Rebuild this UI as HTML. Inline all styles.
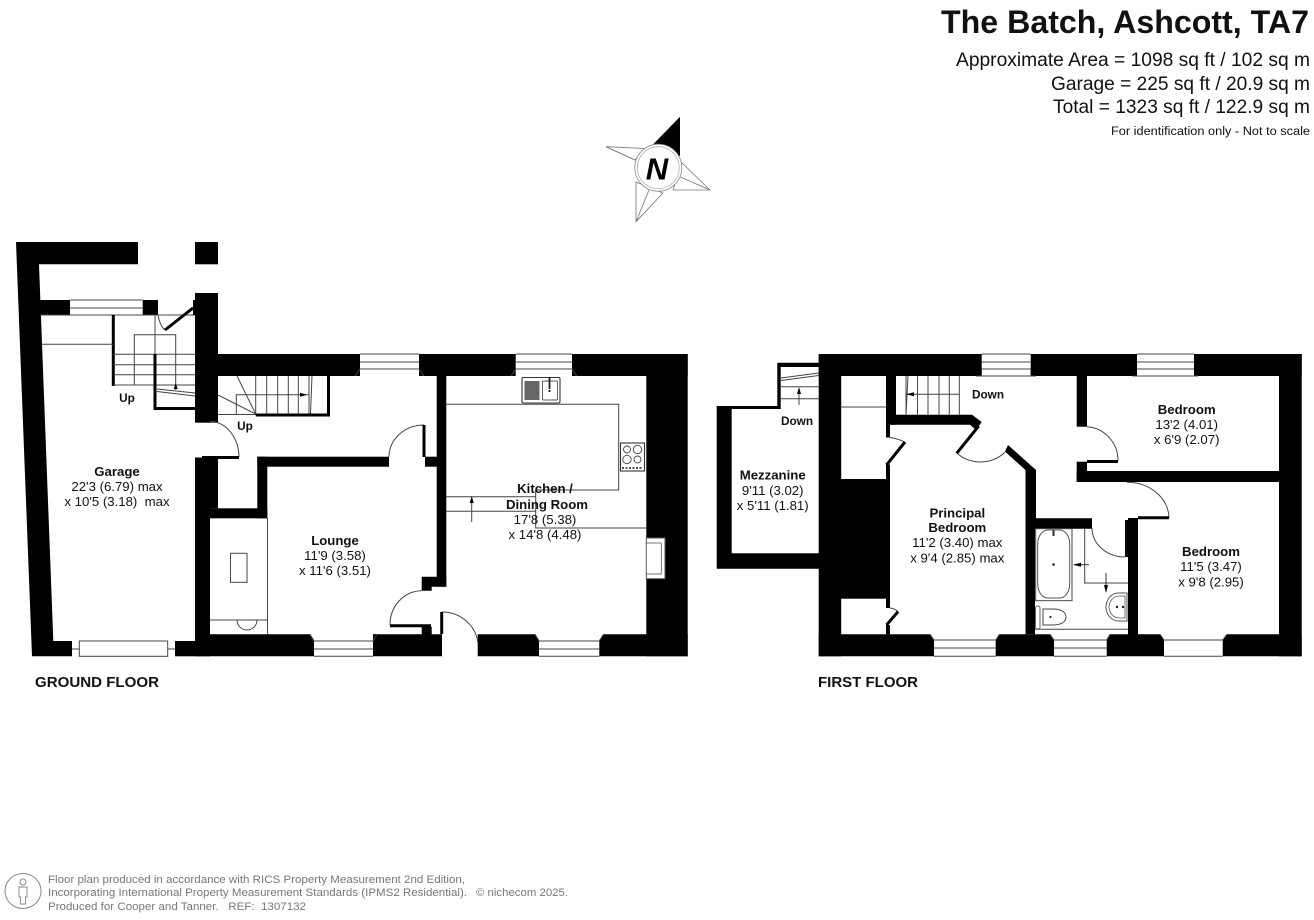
<!DOCTYPE html>
<html><head><meta charset="utf-8"><style>
html,body{margin:0;padding:0;background:#fff;width:1314px;height:920px;overflow:hidden}
svg{display:block}
text{font-family:"Liberation Sans",Arial,sans-serif;fill:#111}
.l text{font-size:13.2px;text-anchor:middle}
.l text.s{font-size:11.8px}
.b{font-weight:bold}
.t{fill:none;stroke:#444;stroke-width:1}
.k{fill:none;stroke:#000;stroke-width:3}
.w{fill:#000}
.g{fill:#fff;stroke:#555;stroke-width:1}
</style></head><body>
<svg width="1314" height="920" viewBox="0 0 1314 920" xmlns="http://www.w3.org/2000/svg">
<rect width="1314" height="920" fill="#fff"/>

<!-- Header -->
<text x="1309" y="33" text-anchor="end" font-size="32.500" font-weight="bold" textLength="368" lengthAdjust="spacingAndGlyphs">The Batch, Ashcott, TA7</text>
<text x="1310" y="66" text-anchor="end" font-size="19.5" textLength="354" lengthAdjust="spacingAndGlyphs">Approximate Area = 1098 sq ft / 102 sq m</text>
<text x="1310" y="90" text-anchor="end" font-size="19.5" textLength="259" lengthAdjust="spacingAndGlyphs">Garage = 225 sq ft / 20.9 sq m</text>
<text x="1310" y="113" text-anchor="end" font-size="19.5" textLength="257" lengthAdjust="spacingAndGlyphs">Total = 1323 sq ft / 122.9 sq m</text>
<text x="1310" y="135" text-anchor="end" font-size="12.4" textLength="199" lengthAdjust="spacingAndGlyphs">For identification only - Not to scale</text>

<!-- Compass -->
<g fill="#fff" stroke="#777" stroke-width="0.8">
<path d="M606 146.700L645 148.500 635 160Z"/>
<path d="M710 190L682 163 673 190Z"/>
<path d="M636 221.700L636 182 663 193Z"/>
<path d="M606 146.700L635 160M710 190L678 176M636 221.700L649 190"/>
</g>
<path d="M680 116.700L651.500 146 680 156Z" fill="#000"/>
<circle cx="658.300" cy="167.700" r="23.500" fill="#fff" stroke="#888" stroke-width="0.8"/>
<circle cx="658.300" cy="167.700" r="21" fill="none" stroke="#999" stroke-width="0.6"/>
<text x="657" y="179.500" text-anchor="middle" font-size="31" font-weight="bold" font-style="italic" style="fill:#000">N</text>

<!-- GROUND FLOOR walls -->
<g class="w">
<path d="M16 242H138V264.300H39L53.300 641H72V656.300H32Z"/>
<rect x="195" y="242" width="23" height="22.300"/>
<rect x="40" y="300" width="30" height="15"/>
<rect x="142.700" y="300" width="15.300" height="15"/>
<rect x="195" y="293" width="23" height="129.700"/>
<rect x="218" y="354" width="142" height="22"/>
<path d="M360 354V376H355Z"/>
<rect x="419" y="354" width="96.700" height="22"/>
<rect x="572" y="354" width="115.700" height="22"/>
<path d="M646.300 354H687.700V656.300H646.300Z"/>
<rect x="195" y="457.500" width="15" height="198.800"/>
<rect x="210" y="458" width="8" height="50.300"/>
<rect x="195" y="508.300" width="72.300" height="10"/>
<rect x="257.300" y="456.700" width="10" height="61.600"/>
<rect x="257.300" y="456.700" width="131.700" height="10"/>
<rect x="425" y="456.700" width="12" height="10"/>
<rect x="436.700" y="376" width="9.600" height="210.700"/>
<path d="M421.700 576.700H446.300V586.700H431.700V590.700H421.700Z"/>
<path d="M421.700 626.700H431.700V634.300H442V656.300H373V634.300H421.700Z"/>
<rect x="175" y="641" width="20" height="15.300"/>
<path d="M195 634.300H310L314 640V656.300H195Z"/>
<path d="M477.700 634.300H535L539 640V656.300H477.700Z"/>
<path d="M599.300 640L603.500 634.300H687.700V656.300H599.300Z"/>
<path d="M373 640L377 634.300H373Z"/>
</g>

<!-- Ground windows -->
<g class="t" stroke-width="1">
<path d="M70 300H142.700M70 308H142.700"/>
<path d="M40 315H195"/>
<path d="M360 354H419M360 362H419M360 369H419M355 376L360 369M424 376L419 369"/>
<path d="M515.700 354H572M515.700 362H572M515.700 369H572M511 376L515.700 369M576.700 376L572 369"/>
<path d="M314 641H373M314 649H373M314 656.300H373M310 634.300L314 641M377 634.300L373 641"/>
<path d="M539 641H599.300M539 649H599.300M539 656.300H599.300M535 634.300L539 641M603.500 634.300L599.300 641"/>
<path d="M72 649H79.300M167.700 649H175"/>
<rect x="79.300" y="641" width="88.400" height="15.300" fill="#fff"/>
</g>

<!-- Garage stairs -->
<path d="M113.300 315V386" class="k" stroke-width="2"/>
<g class="t">
<path d="M41 344.300H113"/>
<path d="M113 354.300H195M113 364.700H195M113 374.700H195M113 385H195"/>
<path d="M134.300 385V334.700H175.700V390"/>
<path d="M155 315V354"/>
<path d="M157 389L195 393M157 391.500L195 396"/>
<path d="M158 315Q160 326 165 330"/>
</g>
<path d="M155 354V408.500H195" class="k" stroke-width="2.500"/>
<path d="M165 330L193 308" class="k" stroke-width="2.200"/>
<path d="M193 300H195V315H193Z" fill="#000"/>
<path d="M175.700 383L173.700 389H177.700Z" fill="#000"/>

<!-- Hall stairs -->
<g class="t">
<path d="M255.700 376V414M266.700 376V414M277.700 376V414M288.300 376V414M298.300 376V414M309 376V414M312 376L310.500 414"/>
<path d="M237 376L255.700 414M218 395L255.700 414"/>
<path d="M236.300 414V394.700H309M218 414.500H256"/>
</g>
<path d="M255.700 415H328.500V376" class="k" stroke-width="2"/>
<path d="M307 394.700L300 392.700V396.700Z" fill="#000"/>
<path d="M210 421.500A29 36 0 0 1 239 457" class="t"/>
<path d="M202 457.500H239" class="k" stroke-width="1.700"/>

<!-- Lounge / understairs -->
<g class="t">
<path d="M267.500 518V634"/>
<path d="M210 620H267.500"/>
<path d="M237 620A10 10 0 0 0 257 620"/>
<rect x="230.500" y="553.300" width="16.500" height="29"/>
<path d="M389 456.700A35 32 0 0 1 424 425"/>
<path d="M390 625A32 34 0 0 1 421.700 590.700"/>
<path d="M442 612A36 34 0 0 1 477.700 642"/>
</g>
<path d="M424 425V457" class="k" stroke-width="1.700"/>
<path d="M390 625.800H431" class="k" stroke-width="1.700"/>
<path d="M441.700 612V634" class="k" stroke-width="1.700"/>

<!-- Kitchen -->
<g class="t">
<path d="M446 404.300H618.700V490H535.700V528H646"/>
<path d="M446 496.700H536M446 511.300H536"/>
<path d="M471.700 522V500"/>
</g>
<rect x="646.300" y="538" width="18.700" height="40.700" fill="#fff" stroke="#555"/>
<rect x="646.300" y="543" width="15" height="31" fill="#fff" stroke="#555" stroke-width=".8"/>
<path d="M471.700 496L469.700 503H473.700Z" fill="#000"/>
<!-- Sink -->
<rect x="522" y="377.500" width="38" height="25.500" rx="1.500" fill="#fff" stroke="#333" stroke-width="1.100"/>
<rect x="524.500" y="381" width="15" height="19" fill="#666"/>
<rect x="542.500" y="381" width="15" height="19" rx="1" fill="#fff" stroke="#555" stroke-width=".9"/>
<path d="M549.500 377V389" stroke="#222" stroke-width="1.800"/>
<rect x="548.500" y="390" width="2" height="2" fill="#222"/>
<!-- Hob -->
<rect x="620.500" y="443" width="24" height="28" fill="#fff" stroke="#333" stroke-width="1.100"/>
<g fill="none" stroke="#444" stroke-width=".9">
<circle cx="627" cy="449.500" r="3.500"/><circle cx="637.500" cy="449.500" r="4.200"/>
<circle cx="627" cy="459.500" r="4.200"/><circle cx="637.500" cy="459.500" r="3.500"/>
</g>
<path d="M622 468H643" stroke="#555" stroke-width="2" stroke-dasharray="2 1.500"/>

<!-- FIRST FLOOR walls -->
<g class="w">
<rect x="818.700" y="354" width="163" height="22"/>
<path d="M976 376L981.700 370V376Z"/>
<rect x="1030.700" y="354" width="106.300" height="22"/>
<path d="M1030.700 370L1035 376H1030.700Z"/>
<path d="M1137 370L1132.500 376H1137Z"/>
<rect x="1194" y="354" width="107.700" height="22"/>
<path d="M1194 370L1198 376H1194Z"/>
<rect x="1279" y="354" width="22.700" height="302.300"/>
<rect x="818.700" y="354" width="22.500" height="302.300"/>
<rect x="839" y="479" width="51" height="119.700"/>
<rect x="886" y="376" width="10" height="48.700"/>
<path d="M886 414.700H972L981.700 422 976 430 970 424.700H886Z"/>
<rect x="886" y="424" width="4" height="13.500"/>
<rect x="886" y="464.500" width="4" height="143.500"/>
<rect x="886" y="625" width="4" height="9.300"/>
<!-- mezzanine -->
<path d="M716.700 406H777.300V362.700H818.700V367H780.700V409H731.700V553.300H819V568.700H716.700Z"/>
<!-- bottom wall -->
<path d="M818.700 634.300H930L934 640V656.300H818.700Z"/>
<path d="M995.700 640L999.500 634.300H1050L1054 640V656.300H995.700Z"/>
<path d="M1106.700 640L1110 634.300H1160L1164 640V656.300H1106.700Z"/>
<path d="M1222.700 640L1227 634.300H1301.700V656.300H1222.700Z"/>
<!-- diagonal wall -->
<path d="M1008 445L1036 470V518.300H1092V528.700H1035V634.300H1025.500V470L1005 451.500Z"/>
<!-- bedroom dividers -->
<rect x="1076.700" y="376" width="10.300" height="50.700"/>
<rect x="1076.700" y="461.700" width="10.300" height="20.300"/>
<rect x="1076.700" y="471" width="202.800" height="11"/>
<rect x="1128" y="518" width="10" height="116.500"/>
<rect x="1125" y="520" width="3.200" height="37"/>
</g>

<!-- First windows -->
<g class="t">
<path d="M981.700 354H1030.700M981.700 362H1030.700M981.700 369H1030.700M976 376H1036"/>
<path d="M1137 354H1194M1137 362H1194M1137 369H1194M1132.500 376H1198"/>
<path d="M934 640H995.700M934 648H995.700M934 656.300H995.700M930 634.300L934 640M999.500 634.300L995.700 640"/>
<path d="M1054 640H1106.700M1054 648H1106.700M1054 656.300H1106.700M1050 634.300L1054 640M1110 634.300L1106.700 640"/>
<path d="M1164 640H1222.700M1164 656.300H1222.700M1160 634.300L1164 640M1227 634.300L1222.700 640"/>
</g>

<!-- First floor details -->
<g class="t">
<path d="M840.700 407H886"/>
<path d="M781 386.700H818.700M781 398.700H818.700M781 378L818.700 373M781 380.500L818.700 375.500"/>
<path d="M799 405V392"/>
<path d="M906 376V414.700M908 376L906 414.700M917.500 376V414.700M928 376V414.700M939 376V414.700M949.300 376V414.700M959.300 376V414.700"/>
<path d="M906 394.300H959.300"/>
<path d="M890 437.500Q898 438.500 905 442.300"/>
<path d="M890 608Q895 608.500 898 611.700"/>
<path d="M956.700 453A36 36 0 0 0 1005 452.300"/>
<path d="M1087 426.700A33 34 0 0 1 1118 461"/>
<path d="M1127 482.300A42 36 0 0 1 1169 518.300"/>
<path d="M1092 528A33 29 0 0 0 1125 557"/>
<path d="M1084.700 528.700V583H1128"/>
<path d="M1035 629.300H1128"/>
</g>
<path d="M799 387L797 394H801Z" fill="#000"/>
<path d="M906 394.300L914 392.300V396.300Z" fill="#000"/>
<path d="M905 442L886.500 465" class="k" stroke-width="2.200"/>
<path d="M898 611.700L886.500 625" class="k" stroke-width="2.200"/>
<path d="M978.700 426L956.700 453.300" class="k" stroke-width="2.400"/>
<path d="M1087 461.500H1118" class="k" stroke-width="1.700"/>
<path d="M1138 517.700H1169" class="k" stroke-width="1.700"/>

<!-- Bath -->
<rect x="1035.700" y="528.700" width="36.300" height="72" fill="#fff" stroke="#444"/>
<rect x="1037.700" y="530" width="32" height="68" rx="10" ry="14" fill="#fff" stroke="#555"/>
<path d="M1053.500 530V536" stroke="#333" stroke-width="2"/>
<circle cx="1053.500" cy="564.500" r="1.300" fill="#222"/>
<path d="M1089 564.700H1074" stroke="#333" stroke-width="1"/>
<path d="M1073 564.700L1081 562.700V566.700Z" fill="#000"/>
<path d="M1106 573V592" stroke="#333" stroke-width="1"/>
<path d="M1106 593L1104 585H1108Z" fill="#000"/>
<!-- Basin -->
<path d="M1127 593H1119C1110 593 1106 601 1106 607S1110 621 1119 621H1127Z" fill="#fff" stroke="#555"/>
<path d="M1125 596H1119C1113 596 1109 602 1109 607S1113 618 1119 618H1125Z" fill="none" stroke="#555" stroke-width=".8"/>
<circle cx="1117" cy="607" r="1.200" fill="#222"/><circle cx="1123" cy="607" r="1.200" fill="#222"/>
<!-- Toilet -->
<rect x="1035.500" y="606" width="4.500" height="23" rx="2" fill="#fff" stroke="#666"/>
<path d="M1043 609H1053C1061 609 1066 612 1066 617S1061 625 1053 625H1043Z" fill="#fff" stroke="#444"/>
<circle cx="1050.500" cy="617" r="1.100" fill="#222"/>

<!-- Labels -->
<g class="l">
<text x="117" y="476" class="b">Garage</text>
<text x="117" y="491">22'3 (6.79) max</text>
<text x="117" y="506">x 10'5 (3.18)&#160; max</text>
<text x="127" y="402" class="b s">Up</text>
<text x="245" y="430" class="b s">Up</text>
<text x="335" y="545" class="b">Lounge</text>
<text x="335" y="560">11'9 (3.58)</text>
<text x="335" y="575">x 11'6 (3.51)</text>
<text x="545" y="493" class="b">Kitchen /</text>
<text x="547" y="509" class="b">Dining Room</text>
<text x="545" y="524">17'8 (5.38)</text>
<text x="545" y="539">x 14'8 (4.48)</text>
<text x="797" y="425" class="b s">Down</text>
<text x="988" y="398.500" class="b s">Down</text>
<text x="772.700" y="479.300" class="b">Mezzanine</text>
<text x="772.700" y="495">9'11 (3.02)</text>
<text x="772.700" y="510">x 5'11 (1.81)</text>
<text x="957.300" y="517.500" class="b">Principal</text>
<text x="957.300" y="532" class="b">Bedroom</text>
<text x="957.300" y="547">11'2 (3.40) max</text>
<text x="957.300" y="562.500">x 9'4 (2.85) max</text>
<text x="1186.700" y="414" class="b">Bedroom</text>
<text x="1186.700" y="429">13'2 (4.01)</text>
<text x="1186.700" y="444">x 6'9 (2.07)</text>
<text x="1211" y="556" class="b">Bedroom</text>
<text x="1211" y="571">11'5 (3.47)</text>
<text x="1211" y="586.500">x 9'8 (2.95)</text>
</g>
<text x="35" y="687" font-size="14.300" font-weight="bold" textLength="124" lengthAdjust="spacingAndGlyphs">GROUND FLOOR</text>
<text x="818" y="687" font-size="14.300" font-weight="bold" textLength="100" lengthAdjust="spacingAndGlyphs">FIRST FLOOR</text>

<!-- Footer -->
<ellipse cx="23" cy="891" rx="18" ry="17.500" fill="none" stroke="#888" stroke-width="1"/>
<circle cx="23" cy="882" r="3" fill="none" stroke="#888"/>
<path d="M19 887H27V897H25.500V904H20.500V897H19Z" fill="none" stroke="#888" stroke-width=".9"/>
<g font-size="11">
<text x="48" y="883" style="fill:#777" textLength="417" lengthAdjust="spacingAndGlyphs">Floor plan produced in accordance with RICS Property Measurement 2nd Edition,</text>
<text x="48" y="896" style="fill:#777" textLength="419" lengthAdjust="spacingAndGlyphs">Incorporating International Property Measurement Standards (IPMS2 Residential).</text>
<text x="476" y="896" style="fill:#777" textLength="92" lengthAdjust="spacingAndGlyphs">© nichecom 2025.</text>
<text x="48" y="910" style="fill:#777" textLength="258" lengthAdjust="spacingAndGlyphs">Produced for Cooper and Tanner.&#160;&#160; REF:&#160; 1307132</text>
</g>
</svg>
</body></html>
